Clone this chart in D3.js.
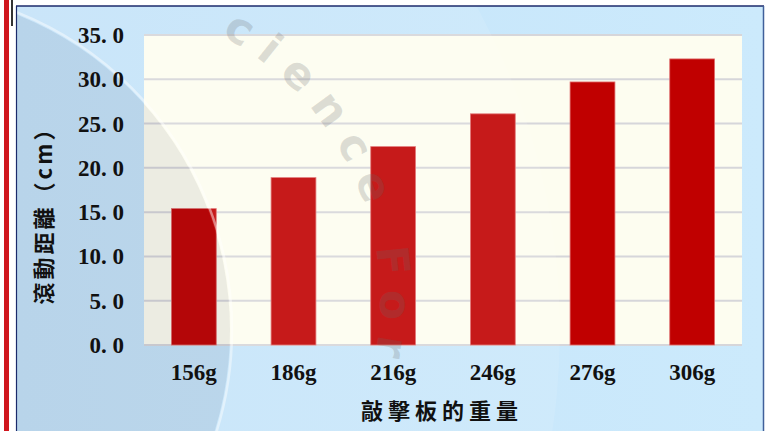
<!DOCTYPE html>
<html>
<head>
<meta charset="utf-8">
<script src="https://cdn.jsdelivr.net/npm/d3@7"></script>
<style>
  html, body { margin: 0; padding: 0; background: #fff; }
  svg { display: block; }
</style>
</head>
<body>
<script>
// chart values
var categories = ['156g', '186g', '216g', '246g', '276g', '306g'];
var distances = [15.4, 18.9, 22.4, 26.1, 29.7, 32.3];
var yTicks = [0, 5, 10, 15, 20, 25, 30, 35];
var xTitle = '敲擊板的重量';
var yTitle = '滾動距離（cm）';

var width = 771,
    height = 431;

var svg = d3.select('body')
  .append('svg')
  .attr('width', width)
  .attr('height', height);

var defs = svg.append('defs');

// background of the chart box
var bg = defs.append('linearGradient')
  .attr('id', 'bgGrad')
  .attr('x1', 0).attr('y1', 0).attr('x2', 1).attr('y2', 0);
bg.append('stop').attr('offset', '0%').attr('stop-color', '#c4e3f9');
bg.append('stop').attr('offset', '100%').attr('stop-color', '#cceafc');

defs.append('clipPath').attr('id', 'boxClip')
  .append('rect')
  .attr('x', 17).attr('y', 6)
  .attr('width', 746).attr('height', 425);

// page strip on the left
svg.append('rect').attr('x', 0).attr('y', 0).attr('width', width).attr('height', height).attr('fill', '#ffffff');
svg.append('rect').attr('x', 4).attr('y', 0).attr('width', 5).attr('height', height).attr('fill', '#d0161e');
svg.append('rect').attr('x', 11).attr('y', 0).attr('width', 2).attr('height', 26).attr('fill', '#333');

// chart box
svg.append('rect')
  .attr('x', 17).attr('y', 6)
  .attr('width', 746).attr('height', 430)
  .attr('fill', 'url(#bgGrad)');

// plot area
var plot = { left: 144, right: 742, top: 35, bottom: 345 };

svg.append('rect')
  .attr('x', plot.left).attr('y', plot.top)
  .attr('width', plot.right - plot.left).attr('height', plot.bottom - plot.top)
  .attr('fill', '#fdfdf0');

var x = d3.scaleBand()
  .domain(categories)
  .range([plot.left, plot.right])
  .paddingInner(0.55)
  .paddingOuter(0.275);

var y = d3.scaleLinear()
  .domain([0, 35])
  .range([plot.bottom, plot.top]);

// gridlines
svg.append('g')
  .selectAll('line')
  .data(yTicks)
  .enter()
  .append('line')
  .attr('x1', plot.left)
  .attr('x2', plot.right)
  .attr('y1', function(d) { return y(d); })
  .attr('y2', function(d) { return y(d); })
  .attr('stroke', '#d6d6da')
  .attr('stroke-width', 2);

// bars
svg.append('g')
  .selectAll('rect')
  .data(distances)
  .enter()
  .append('rect')
  .attr('x', function(d, i) { return x(categories[i]); })
  .attr('y', function(d) { return y(d); })
  .attr('width', x.bandwidth())
  .attr('height', function(d) { return y(0) - y(d); })
  .attr('fill', '#c00000')
  .attr('stroke', '#e07070')
  .attr('stroke-width', 0.8);

// faint watermark on top of everything in the box
var wm = svg.append('g').attr('clip-path', 'url(#boxClip)');

// grey disc lower left, white rim
wm.append('circle')
  .attr('cx', -110).attr('cy', 330).attr('r', 340)
  .attr('fill', '#404858').attr('fill-opacity', 0.09);
wm.append('path')
  .attr('d', d3.arc()({ innerRadius: 340, outerRadius: 670, startAngle: 0, endAngle: Math.PI }))
  .attr('transform', 'translate(-110,330)')
  .attr('fill', '#ffffff').attr('fill-opacity', 0.1);
wm.append('circle')
  .attr('cx', -110).attr('cy', 330).attr('r', 342)
  .attr('fill', 'none')
  .attr('stroke', '#ffffff').attr('stroke-opacity', 0.45).attr('stroke-width', 2.5);

// text along an arc
var rText = 300, cxT = 80, cyT = 300;
function pt(a) {
  var r = a * Math.PI / 180;
  return [cxT + rText * Math.cos(r), cyT + rText * Math.sin(r)];
}
var p0 = pt(-62), p1 = pt(30);
defs.append('path')
  .attr('id', 'wmPath')
  .attr('d', 'M' + p0[0] + ',' + p0[1] + ' A' + rText + ',' + rText + ' 0 0,1 ' + p1[0] + ',' + p1[1]);

wm.append('text')
  .attr('font-family', 'DejaVu Sans, sans-serif')
  .attr('font-weight', 'bold')
  .attr('font-size', 44)
  .attr('letter-spacing', 14)
  .attr('fill', '#6a6a6a')
  .attr('fill-opacity', 0.22)
  .append('textPath')
  .attr('href', '#wmPath')
  .attr('startOffset', 0)
  .text('cience For');

// box borders
svg.append('line').attr('x1', 16.5).attr('x2', 16.5).attr('y1', 6).attr('y2', height)
  .attr('stroke', '#1b2a6b').attr('stroke-width', 1.2);
svg.append('line').attr('x1', 16).attr('x2', 764).attr('y1', 6).attr('y2', 6)
  .attr('stroke', '#1b2a6b').attr('stroke-width', 1.5);
svg.append('line').attr('x1', 763.5).attr('x2', 763.5).attr('y1', 6).attr('y2', height)
  .attr('stroke', '#40609a').attr('stroke-width', 1.5);

// y tick labels
var fmt = d3.format('.1f');
svg.append('g')
  .selectAll('text')
  .data(yTicks)
  .enter()
  .append('text')
  .attr('x', 124)
  .attr('y', function(d) { return y(d); })
  .attr('dy', '0.35em')
  .attr('text-anchor', 'end')
  .attr('font-family', 'Liberation Serif, serif')
  .attr('font-weight', 'bold')
  .attr('font-size', 23)
  .attr('fill', '#111')
  .style('white-space', 'pre')
  .text(function(d) { return fmt(d).replace('.', '. '); });

// x tick labels
svg.append('g')
  .selectAll('text')
  .data(categories)
  .enter()
  .append('text')
  .attr('x', function(d) { return x(d) + x.bandwidth() / 2; })
  .attr('y', 380)
  .attr('text-anchor', 'middle')
  .attr('font-family', 'Liberation Serif, serif')
  .attr('font-weight', 'bold')
  .attr('font-size', 23)
  .attr('fill', '#111')
  .text(function(d) { return d; });

// axis titles
svg.append('text')
  .attr('x', 442)
  .attr('y', 419)
  .attr('text-anchor', 'middle')
  .attr('font-family', 'Noto Sans CJK TC, sans-serif')
  .attr('font-weight', 'bold')
  .attr('font-size', 22)
  .attr('letter-spacing', 5)
  .attr('fill', '#111')
  .text(xTitle);

svg.append('text')
  .attr('transform', 'translate(52,210) rotate(-90)')
  .attr('text-anchor', 'middle')
  .attr('font-family', 'Noto Sans CJK TC, sans-serif')
  .attr('font-weight', 'bold')
  .attr('font-size', 22)
  .attr('letter-spacing', 3)
  .attr('fill', '#111')
  .text(yTitle);
</script>
</body>
</html>
